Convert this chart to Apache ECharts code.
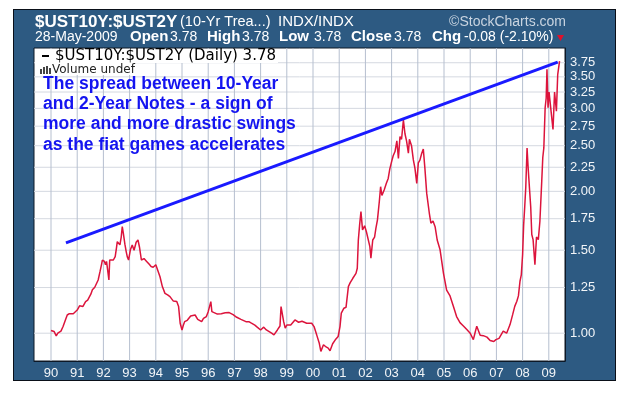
<!DOCTYPE html>
<html><head><meta charset="utf-8">
<script src="https://cdn.jsdelivr.net/npm/echarts@6/dist/echarts.min.js"></script>
<style>
html,body{margin:0;padding:0;background:#fff}
#wrap{position:relative;width:626px;height:394px}
#panel{position:absolute;left:13px;top:9px;width:603px;height:372px;background:#2d5a82;border:1px solid #0a0f18;box-sizing:border-box}
#c{position:absolute;left:0;top:0;width:626px;height:394px}
</style>
</head><body><div id="wrap"><div id="panel"></div><div id="c"></div></div>
<script>
// decimal year of each reading
const dates = [
1990.00,1990.05,1990.12,1990.20,1990.26,1990.31,1990.38,1990.46,1990.55,1990.62,1990.70,1990.77,1990.85,1990.91,
1991.00,1991.09,1991.15,1991.22,1991.32,1991.40,1991.45,1991.52,1991.58,1991.67,1991.72,1991.80,1991.87,1991.93,1991.96,
1992.00,1992.04,1992.08,1992.12,1992.15,1992.21,1992.24,1992.30,1992.38,1992.45,1992.50,1992.53,1992.58,1992.63,1992.68,1992.72,1992.76,1992.82,1992.87,1992.91,1992.96,
1993.03,1993.10,1993.17,1993.25,1993.32,1993.38,1993.45,1993.55,1993.65,1993.75,1993.82,1993.90,
1994.00,1994.06,1994.16,1994.25,1994.35,1994.45,1994.54,1994.67,1994.72,1994.80,1994.87,1994.93,
1995.00,1995.05,1995.10,1995.20,1995.33,1995.40,1995.50,1995.60,1995.75,1995.82,1995.93,
1996.00,1996.06,1996.10,1996.14,1996.20,1996.35,1996.50,1996.65,1996.80,1996.95,
1997.09,1997.25,1997.44,1997.55,1997.65,1997.78,1997.87,
1998.00,1998.12,1998.22,1998.42,1998.51,1998.64,1998.74,1998.78,1998.83,1998.88,1998.94,
1999.00,1999.15,1999.31,1999.45,1999.58,1999.76,1999.95,
2000.04,2000.14,2000.24,2000.30,2000.40,2000.50,2000.58,2000.65,2000.75,2000.85,2000.96,
2001.03,2001.08,2001.18,2001.26,2001.35,2001.42,2001.52,2001.64,2001.69,2001.73,2001.78,2001.83,2001.89,2001.97,
2002.04,2002.11,2002.17,2002.21,2002.28,2002.35,2002.40,2002.46,2002.53,2002.58,2002.63,2002.72,2002.80,2002.87,2002.93,
2003.00,2003.06,2003.13,2003.20,2003.26,2003.32,2003.38,2003.45,2003.51,2003.57,2003.64,2003.68,2003.76,2003.83,2003.89,2003.96,
2004.02,2004.08,2004.15,2004.21,2004.27,2004.34,2004.44,2004.50,2004.58,2004.66,2004.74,2004.85,2004.98,
2005.10,2005.23,2005.36,2005.48,2005.61,2005.75,2005.87,
2006.00,2006.12,2006.18,2006.25,2006.38,2006.50,2006.64,2006.76,2006.90,2006.98,
2007.10,2007.26,2007.39,2007.52,2007.62,2007.70,2007.78,2007.84,2007.90,2007.95,
2008.00,2008.04,2008.08,2008.12,2008.17,2008.21,2008.27,2008.31,2008.35,2008.40,2008.47,2008.53,2008.60,2008.66,2008.73,2008.77,2008.81,2008.86,2008.90,2008.93,2008.97,
2009.01,2009.10,2009.16,2009.22,2009.29,2009.34,2009.41
];
// $UST10Y:$UST2Y ratio
const spread = [
1.013,1.005,1.008,0.987,1.000,1.003,1.010,1.033,1.067,1.093,1.100,1.106,1.100,1.093,
1.120,1.143,1.135,1.140,1.167,1.175,1.186,1.210,1.236,1.252,1.262,1.297,1.351,1.400,1.430,
1.440,1.420,1.397,1.420,1.410,1.297,1.430,1.440,1.430,1.454,1.520,1.564,1.570,1.540,1.600,1.683,1.630,1.545,1.490,1.454,1.430,
1.503,1.539,1.500,1.560,1.577,1.520,1.430,1.440,1.420,1.400,1.385,1.380,
1.397,1.390,1.318,1.256,1.215,1.206,1.196,1.170,1.175,1.167,1.139,1.050,
1.016,1.040,1.058,1.065,1.088,1.080,1.093,1.070,1.058,1.075,1.085,
1.111,1.120,1.167,1.111,1.103,1.098,1.100,1.105,1.106,1.095,
1.081,1.070,1.058,1.058,1.050,1.040,1.030,
1.016,1.030,1.016,1.000,0.992,1.016,1.036,1.139,1.130,1.058,1.025,
1.041,1.041,1.067,1.055,1.060,1.050,1.050,
1.033,0.992,0.952,0.915,0.945,0.935,0.930,0.918,0.950,0.968,0.984,
1.033,1.103,1.130,1.135,1.256,1.280,1.308,1.340,1.374,1.577,1.700,1.812,1.657,1.690,
1.640,1.630,1.527,1.443,1.577,1.600,1.670,1.740,1.901,2.046,1.960,2.016,2.080,2.130,2.230,
2.313,2.380,2.430,2.560,2.350,2.613,2.580,2.835,2.650,2.560,2.410,2.580,2.500,2.332,2.240,2.080,
2.300,2.330,2.410,2.460,2.240,1.980,1.797,1.712,1.730,1.683,1.577,1.503,1.340,
1.235,1.200,1.139,1.085,1.053,1.035,1.018,
1.000,0.969,1.000,1.035,0.990,0.988,0.981,0.965,0.960,0.969,
0.975,1.010,1.000,1.043,1.095,1.140,1.169,1.200,1.289,1.330,
1.470,1.700,1.850,2.035,2.473,2.250,2.000,1.850,1.620,1.580,1.398,1.600,1.580,1.728,2.100,2.360,2.473,3.010,3.157,3.630,3.010,
3.250,2.910,2.706,3.250,2.960,3.540,3.780
];
// hand-drawn trend line endpoints
const trendDates = [1990.57, 2009.34];
const trendValues = [1.555, 3.76];
const yTicks = [1.00,1.25,1.50,1.75,2.00,2.25,2.50,2.75,3.00,3.25,3.50,3.75];
const xTicks = [1990,1991,1992,1993,1994,1995,1996,1997,1998,1999,2000,2001,2002,2003,2004,2005,2006,2007,2008,2009];

const spreadData = dates.map((d,i)=>[d, spread[i]]);
const trendData = trendDates.map((d,i)=>[d, trendValues[i]]);

const chart = echarts.init(document.getElementById('c'), null, {renderer:'canvas'});
const SANS = '"Liberation Sans", Arial, sans-serif';
const DEJ = '"DejaVu Sans", Verdana, sans-serif';
function txt(text, x, y, size, opts){
  return {type:'text', z:100, style:Object.assign({text, x, y, fontSize:size, fontFamily:SANS, fill:'#fff', verticalAlign:'middle', align:'left'}, opts||{})};
}
const X_MIN = 1989.351, X_MAX = 2009.618;
const Y_MIN = 0.873, Y_MAX = 4.03;
// gridlines drawn as plain two-point series through the axes' own scales
const vGrid = xTicks.map(x => ({type:'line', data:[[x, Y_MIN],[x, Y_MAX]], symbol:'none', showSymbol:false, silent:true, z:2,
  lineStyle:{color:'#b6bfcf', width:1}}));
const hGrid = yTicks.map(y => ({type:'line', data:[[X_MIN, y],[X_MAX, y]], symbol:'none', showSymbol:false, silent:true, z:1,
  lineStyle:{color:'#d5d9e1', width:1}}));
chart.setOption({
  backgroundColor:'transparent',
  animation:false,
  grid:{left:34, top:48, width:531, height:313, show:true, backgroundColor:'#ffffff', borderColor:'#0d1826', borderWidth:1},
  xAxis:{
    type:'value', min:X_MIN, max:X_MAX,
    axisLine:{show:true, onZero:false, lineStyle:{color:'#0d1826'}},
    axisTick:{show:false},
    axisLabel:{customValues:xTicks, color:'#f2f5f8', fontSize:13, fontFamily:SANS, margin:6,
      formatter:v=>String(Math.round(v)).slice(2)},
    splitLine:{show:false}
  },
  yAxis:{
    type:'log', logBase:10, min:Y_MIN, max:Y_MAX, position:'right',
    axisLine:{show:true, onZero:false, lineStyle:{color:'#0d1826'}},
    axisTick:{show:false},
    axisLabel:{customValues:yTicks, color:'#f2f5f8', fontSize:13, fontFamily:SANS, margin:5,
      formatter:v=>Number(v).toFixed(2)},
    splitLine:{show:false}
  },
  series:[
    ...hGrid,
    ...vGrid,
    {type:'line', data:spreadData, showSymbol:false, symbol:'none', z:10,
     lineStyle:{color:'#dc143c', width:1.5}},
    {type:'line', data:trendData, showSymbol:false, symbol:'none', z:11,
     lineStyle:{color:'#1a1aff', width:3}}
  ],
  graphic:{elements:[
    txt('$UST10Y:$UST2Y', 35, 22, 17, {fontWeight:'bold'}),
    txt('(10-Yr Trea...)', 180, 22, 14.5),
    txt('INDX/INDX', 278, 22, 15),
    txt('\u00A9StockCharts.com', 566, 22, 14, {align:'right', fill:'#c9d4e0'}),
    txt('28-May-2009', 35, 37, 14),
    txt('Open', 130, 37, 15, {fontWeight:'bold'}),
    txt('3.78', 170, 37, 14),
    txt('High', 207, 37, 15, {fontWeight:'bold'}),
    txt('3.78', 242, 37, 14),
    txt('Low', 279, 37, 15, {fontWeight:'bold'}),
    txt('3.78', 314, 37, 14),
    txt('Close', 351, 37, 15, {fontWeight:'bold'}),
    txt('3.78', 394, 37, 14),
    txt('Chg', 432, 37, 15, {fontWeight:'bold'}),
    txt('-0.08 (-2.10%)', 464, 37, 14),
    {type:'polygon', z:100, shape:{points:[[557,35],[564,35],[560.5,41]]}, style:{fill:'#e0102a'}},
    {type:'rect', z:90, shape:{x:35, y:49, width:243, height:14}, style:{fill:'#ffffff'}},
    {type:'rect', z:90, shape:{x:35, y:63, width:101, height:12}, style:{fill:'#ffffff'}},
    {type:'rect', z:100, shape:{x:42, y:55, width:7, height:2}, style:{fill:'#000'}},
    txt('$UST10Y:$UST2Y (Daily) 3.78', 55, 56.5, 15, {fill:'#000', fontFamily:DEJ}),
    {type:'rect', z:100, shape:{x:40, y:69, width:2, height:5}, style:{fill:'#444'}},
    {type:'rect', z:100, shape:{x:43, y:67, width:2, height:7}, style:{fill:'#444'}},
    {type:'rect', z:100, shape:{x:46, y:66, width:2, height:8}, style:{fill:'#444'}},
    {type:'rect', z:100, shape:{x:49, y:68, width:2, height:6}, style:{fill:'#444'}},
    txt('Volume undef', 52, 69.5, 12, {fill:'#222', fontFamily:DEJ}),
    txt('The spread between 10-Year', 43, 84.5, 17.5, {fill:'#1414f0', fontWeight:'bold'}),
    txt('and 2-Year Notes - a sign of', 43, 104, 17.5, {fill:'#1414f0', fontWeight:'bold'}),
    txt('more and more drastic swings', 43, 124, 17.5, {fill:'#1414f0', fontWeight:'bold'}),
    txt('as the fiat games accelerates', 43, 145, 17.5, {fill:'#1414f0', fontWeight:'bold'})
  ]}
});
</script>
</body></html>
